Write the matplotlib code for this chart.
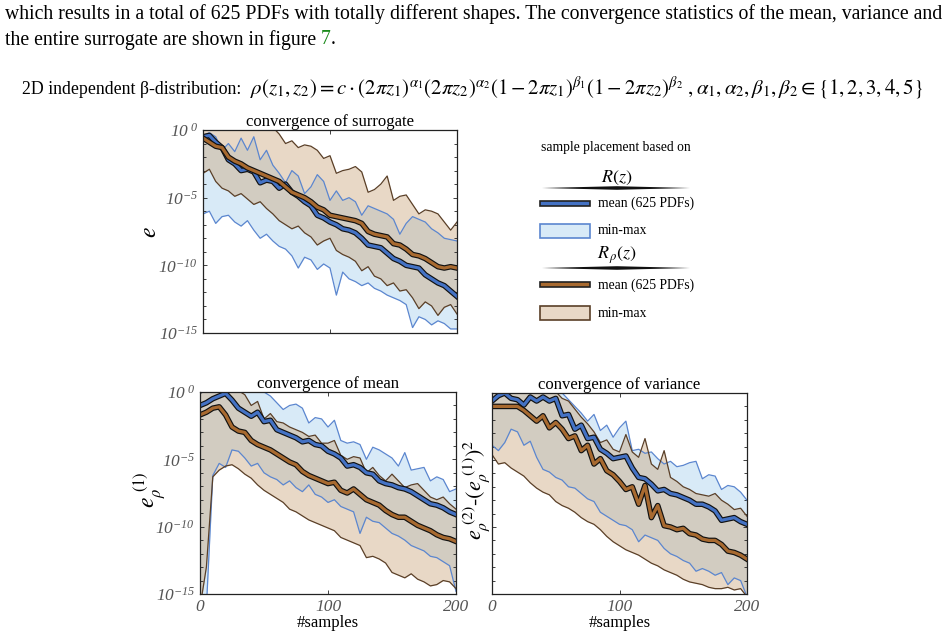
import numpy as np
import matplotlib
matplotlib.use("Agg")
import matplotlib.pyplot as plt
import matplotlib.patheffects as pe
from matplotlib.patches import Rectangle, Polygon
from matplotlib.ticker import NullFormatter

plt.rcParams["font.family"] = ["Liberation Serif", "DejaVu Serif"]
plt.rcParams["mathtext.fontset"] = "stix"
# italic serif for the tick labels (used through math_fontfamily="custom")
plt.rcParams["mathtext.it"] = "Liberation Serif:italic"
plt.rcParams["mathtext.rm"] = "Liberation Serif:italic"

# sample counts (x axis), every 5 samples
samples = np.arange(0, 201, 5)

# log10 of the error
# --- convergence of surrogate ---
sur_blue_min = [-6.2, -6.0, -6.9, -6.4, -6.3, -6.8, -7.1, -6.7, -7.4, -8.0, -7.7, -8.2, -8.6, -8.8, -9.3, -10.2, -9.4,
                -9.6, -10.3, -9.9, -10.2, -12.2, -10.5, -11.0, -11.2, -11.5, -11.3, -11.7, -11.9, -12.2, -12.4, -12.6,
                -12.9, -14.6, -13.8, -14.0, -14.4, -14.1, -14.3, -14.7, -14.7]
sur_blue_max = [-0.4, -0.2, -0.5, -1.5, -1.0, -1.6, -0.6, -1.5, -0.5, -2.2, -1.5, -2.6, -3.2, -3.9, -3.0, -3.4, -4.7,
                -4.2, -3.3, -3.8, -5.2, -4.5, -5.2, -5.0, -5.3, -6.3, -5.6, -5.8, -6.0, -6.2, -6.6, -7.7, -6.9, -6.4,
                -6.6, -6.8, -7.3, -7.6, -8.0, -8.1, -8.2]
sur_blue_mean = [-0.5, -0.4, -0.9, -1.3, -2.2, -2.5, -3.0, -2.9, -3.1, -3.9, -3.7, -3.8, -4.3, -4.0, -4.6, -4.9, -5.3,
                 -5.6, -6.3, -6.5, -6.8, -7.0, -7.3, -7.4, -7.6, -8.0, -8.5, -8.6, -8.7, -9.1, -9.5, -9.7, -10.0,
                 -10.1, -10.2, -10.7, -11.0, -11.3, -11.5, -11.9, -12.3]
sur_brown_min = [-3.2, -2.9, -3.8, -4.3, -4.5, -4.9, -4.7, -5.1, -5.5, -5.3, -5.8, -6.2, -6.7, -7.0, -7.3, -7.1, -7.6,
                 -7.9, -8.5, -8.2, -8.0, -8.9, -9.2, -9.4, -9.7, -10.4, -10.1, -10.8, -11.0, -11.5, -11.3, -11.9,
                 -11.8, -12.4, -13.2, -12.7, -13.0, -13.7, -13.1, -12.9, -13.6]
sur_brown_max = [0.2, 0.2, 0.2, 0.2, 0.2, 0.2, 0.2, 0.2, 0.2, 0.2, 0.1, 0.2, -0.3, -1.0, -0.8, -1.3, -1.1, -1.2, -1.5,
                 -2.1, -1.9, -3.2, -3.0, -2.9, -2.7, -3.1, -4.6, -4.4, -4.0, -3.4, -5.2, -4.9, -4.8, -5.5, -6.2, -5.9,
                 -6.0, -6.2, -6.8, -7.4, -6.8]
sur_brown_mean = [-0.6, -0.9, -1.2, -1.3, -2.0, -2.3, -2.5, -2.8, -3.0, -3.2, -3.4, -3.6, -3.8, -4.2, -4.6, -4.8, -5.0,
                  -5.3, -5.7, -5.9, -6.3, -6.4, -6.5, -6.6, -6.7, -6.9, -7.5, -7.7, -7.8, -7.9, -8.4, -8.5, -8.8,
                  -9.2, -9.3, -9.5, -9.8, -10.1, -10.2, -10.1, -10.2]

# --- convergence of mean ---
mean_blue_min = [-16, -16, -6.2, -5.3, -5.6, -4.3, -4.4, -4.9, -5.5, -5.3, -6.0, -6.3, -6.5, -6.9, -6.6, -7.1, -7.4,
                 -6.9, -7.6, -7.8, -8.2, -8.0, -8.5, -8.7, -8.9, -10.5, -9.3, -9.6, -9.7, -10.1, -10.5, -10.7, -11.0,
                 -11.4, -11.6, -11.8, -12.2, -12.3, -12.6, -12.9, -14.8]
mean_blue_max = [-0.1, 0.1, 0.1, 0.1, 0.1, 0.1, 0.1, 0.1, 0.1, 0.1, 0.0, -0.3, -0.8, -1.3, -1.0, -0.9, -1.2, -2.3, -1.9,
                 -2.0, -2.6, -2.1, -3.6, -3.8, -3.7, -3.9, -5.0, -4.1, -4.3, -4.6, -4.9, -5.5, -4.5, -5.8, -5.7, -5.6,
                 -6.6, -6.3, -6.5, -7.4, -7.2]
mean_blue_mean = [-1.0, -0.8, -0.5, -0.3, -0.1, -0.6, -1.2, -1.5, -1.8, -1.5, -2.2, -2.1, -2.8, -3.0, -3.2, -3.4, -3.7,
                  -3.6, -3.9, -4.0, -4.4, -4.6, -4.9, -5.5, -5.4, -5.6, -6.0, -6.1, -6.6, -6.8, -6.9, -7.1, -7.2,
                  -7.4, -7.7, -8.0, -8.3, -8.4, -8.6, -8.9, -9.1]
mean_brown_min = [-16, -13.0, -6.3, -5.8, -5.5, -5.4, -5.7, -6.1, -6.4, -6.9, -7.3, -7.6, -7.9, -8.2, -8.7, -8.9, -9.2,
                  -9.5, -9.7, -9.9, -10.1, -10.3, -10.8, -11.0, -11.2, -11.4, -12.3, -12.2, -12.4, -12.7, -13.4,
                  -13.6, -13.8, -13.5, -13.9, -14.1, -14.4, -14.3, -14.0, -14.1, -14.6]
mean_brown_max = [-0.1, 0.1, 0.1, 0.1, 0.1, 0.1, 0.1, -0.2, -1.0, -0.7, -2.0, -1.6, -2.2, -2.3, -2.6, -2.8, -3.0, -3.3,
                  -3.2, -3.8, -3.8, -3.6, -4.7, -5.0, -4.8, -4.9, -6.0, -5.6, -6.2, -6.6, -6.1, -6.6, -7.1, -6.9, -6.8,
                  -7.3, -7.8, -8.0, -7.8, -8.3, -8.7]
mean_brown_mean = [-1.7, -1.5, -1.2, -1.1, -1.7, -2.6, -2.9, -3.0, -3.6, -3.9, -4.1, -4.3, -4.6, -4.9, -5.2, -5.4,
                   -5.9, -6.2, -6.4, -6.6, -6.8, -6.7, -7.3, -7.5, -7.2, -7.6, -8.0, -8.2, -8.4, -8.8, -9.1, -9.3,
                   -9.3, -9.6, -9.9, -10.1, -10.3, -10.6, -10.8, -10.9, -11.1]

# --- convergence of variance ---
var_blue_min = [-3.9, -4.3, -3.7, -2.7, -2.9, -3.9, -3.6, -4.8, -5.7, -5.9, -6.3, -6.5, -7.0, -7.1, -7.5, -7.9, -8.1,
                -8.9, -9.2, -9.5, -9.8, -9.9, -10.2, -11.1, -10.6, -10.8, -11.0, -11.6, -12.0, -12.2, -12.5, -12.7,
                -13.3, -13.1, -13.3, -13.6, -13.4, -14.3, -13.8, -14.0, -15.2]
var_blue_max = [0.1, 0.1, 0.1, 0.1, 0.1, 0.1, 0.1, 0.1, 0.1, 0.1, 0.1, 0.0, -0.5, -1.0, -1.5, -2.1, -1.6, -2.8, -2.4,
                -3.3, -2.6, -2.1, -4.3, -4.2, -4.5, -4.4, -4.9, -5.3, -5.1, -5.5, -5.4, -5.2, -5.1, -6.4, -6.1, -6.2,
                -7.2, -6.9, -7.0, -7.4, -8.0]
var_blue_mean = [-0.6, -0.2, 0.0, -0.4, -0.5, -0.9, -0.3, -0.6, -0.3, -0.6, -0.4, -1.7, -1.6, -2.7, -2.4, -3.4, -3.3,
                 -4.2, -4.5, -4.9, -4.8, -4.7, -5.6, -6.3, -6.4, -6.8, -7.3, -7.2, -7.5, -7.6, -7.8, -8.0, -8.3, -8.3,
                 -8.5, -8.8, -9.5, -9.4, -9.3, -9.6, -9.8]
var_brown_min = [-4.6, -5.3, -5.2, -5.6, -5.9, -6.2, -6.7, -7.1, -7.4, -7.6, -8.1, -8.4, -8.6, -8.9, -9.3, -9.6, -9.8,
                 -10.2, -10.7, -11.1, -11.4, -11.7, -11.9, -12.1, -12.4, -12.7, -12.9, -13.2, -13.4, -13.6, -13.9,
                 -14.1, -14.2, -14.3, -14.5, -14.6, -14.6, -14.5, -14.7, -14.6, -15.2]
var_brown_max = [0.1, 0.1, 0.1, 0.1, 0.1, 0.1, 0.1, 0.1, 0.1, 0.1, 0.1, -0.4, -0.6, -1.2, -1.8, -2.3, -2.9, -3.7, -3.5,
                 -4.2, -4.4, -3.1, -4.4, -4.8, -3.4, -5.3, -5.7, -4.3, -6.3, -6.6, -7.0, -7.2, -7.5, -7.6, -7.7, -7.5,
                 -8.0, -8.3, -8.7, -8.6, -9.2]
var_brown_mean = [-1.0, -1.0, -1.0, -1.0, -1.0, -1.3, -1.7, -2.1, -1.7, -2.6, -2.2, -2.7, -3.4, -3.2, -4.3, -3.9, -5.3,
                  -4.9, -5.8, -6.1, -6.6, -7.2, -7.0, -8.3, -6.9, -9.3, -8.4, -9.9, -10.0, -10.2, -10.1, -10.5, -10.6,
                  -10.9, -11.0, -11.0, -11.3, -11.8, -11.9, -12.1, -12.4]

ytick_exps = [0, -5, -10, -15]
xtick_vals = [0, 100, 200]

BLUE_FILL = "#d8eaf7"
BLUE_LINE = "#5b86cf"
BLUE_MEAN = "#4472c4"
BROWN_FILL = "#cdaa83"
BROWN_LINE = "#5a3f27"
BROWN_MEAN = "#a86a30"
TICK_GRAY = "#555555"

W, H = 949, 636


def fx(px):
    return px / W


def fy(py):
    return 1 - py / H


def draw_panel(ax, bmin, bmax, bmean, rmin, rmax, rmean):
    ax.fill_between(samples, 10.0 ** np.array(bmin), 10.0 ** np.array(bmax), color=BLUE_FILL, lw=0)
    ax.fill_between(samples, 10.0 ** np.array(rmin), 10.0 ** np.array(rmax), color=BROWN_FILL, alpha=0.46, lw=0)
    for v in (bmin, bmax):
        ax.plot(samples, 10.0 ** np.array(v), color=BLUE_LINE, lw=0.9)
    for v in (rmin, rmax):
        ax.plot(samples, 10.0 ** np.array(v), color=BROWN_LINE, lw=0.9)
    stroke = [pe.Stroke(linewidth=4.0, foreground="#111111"), pe.Normal()]
    ax.plot(samples, 10.0 ** np.array(bmean), color=BLUE_MEAN, lw=2.3, path_effects=stroke, solid_joinstyle="round")
    ax.plot(samples, 10.0 ** np.array(rmean), color=BROWN_MEAN, lw=2.3, path_effects=stroke, solid_joinstyle="round")
    ax.set_yscale("log")
    ax.set_xlim(0, 200)
    ax.set_ylim(1e-15, 1e0)
    ax.set_yticks([10.0 ** e for e in ytick_exps])
    ax.set_yticks([10.0 ** e for e in range(-15, 1)], minor=True)
    ax.yaxis.set_minor_formatter(NullFormatter())
    ax.set_xticks(xtick_vals)
    ax.tick_params(which="both", direction="in", right=True, top=True, length=3, width=0.6, colors="#222222",
                   labelcolor=TICK_GRAY, labelsize=12.5)
    ax.tick_params(which="minor", length=2.5)
    for s in ax.spines.values():
        s.set_linewidth(0.9)
        s.set_color("#222222")


def ylabels(ax):
    labs = []
    for e in ytick_exps:
        if e == 0:
            labs.append(r"$\mathit{10}^{\ \mathit{0}}$")
        else:
            labs.append(r"$\mathit{10}^{\mathit{-%d}}$" % (-e))
    ax.set_yticklabels(labs, math_fontfamily="custom")


fig = plt.figure(figsize=(W / 100, H / 100), dpi=100)

ax_s = fig.add_axes([fx(203), fy(333), fx(457) - fx(203), fy(130) - fy(333)])
ax_m = fig.add_axes([fx(200), fy(594), fx(456) - fx(200), fy(392) - fy(594)])
ax_v = fig.add_axes([fx(492), fy(594), fx(747) - fx(492), fy(393) - fy(594)])

draw_panel(ax_s, sur_blue_min, sur_blue_max, sur_blue_mean, sur_brown_min, sur_brown_max, sur_brown_mean)
draw_panel(ax_m, mean_blue_min, mean_blue_max, mean_blue_mean, mean_brown_min, mean_brown_max, mean_brown_mean)
draw_panel(ax_v, var_blue_min, var_blue_max, var_blue_mean, var_brown_min, var_brown_max, var_brown_mean)

ylabels(ax_s)
ylabels(ax_m)
ax_v.set_yticklabels([])
ax_s.set_xticklabels([])
for ax in (ax_m, ax_v):
    ax.set_xticklabels([str(v) for v in xtick_vals], fontstyle="italic")
    ax.set_xlabel("#samples", fontsize=12, labelpad=0)

ax_s.set_title("convergence of surrogate", fontsize=12, pad=3)
ax_m.set_title("convergence of mean", fontsize=12, pad=3)
ax_v.set_title("convergence of variance", fontsize=12, pad=3)

fig.text(fx(150), fy(232), r"$e$", fontsize=17, rotation=90, ha="center", va="center")
fig.text(fx(150), fy(490), r"$e_{\rho}^{\ (1)}$", fontsize=17, rotation=90, ha="center", va="center")
fig.text(fx(476), fy(490), r"$e_{\rho}^{\ (2)}\text{-}(e_{\rho}^{\ (1)})^2$", fontsize=16, rotation=90,
         ha="center", va="center")

# page text above the figure
PAGE_FS = 14.2
fig.text(fx(5), fy(14), "which results in a total of 625 PDFs with totally different shapes. The convergence "
         "statistics of the mean, variance and", fontsize=PAGE_FS, va="center", ha="left")
line2 = fig.text(fx(5), fy(40), "the entire surrogate are shown in figure ", fontsize=PAGE_FS, va="center",
                 ha="left")
fig.canvas.draw()
x_end = fig.transFigure.inverted().transform(line2.get_window_extent().p1)[0]
seven = fig.text(x_end, fy(40), "7", fontsize=PAGE_FS, va="center", ha="left", color="#1a8a1a")
fig.canvas.draw()
x_end = fig.transFigure.inverted().transform(seven.get_window_extent().p1)[0]
fig.text(x_end, fy(40), ".", fontsize=PAGE_FS, va="center", ha="left")

fig.text(fx(22), fy(89), "2D independent β-distribution:", fontsize=12.8, va="center", ha="left")
fig.text(fx(250), fy(88),
         r"$\rho(z_1,z_2)=c\cdot(2\pi z_1)^{\alpha_1}(2\pi z_2)^{\alpha_2}(1-2\pi z_1)^{\beta_1}"
         r"(1-2\pi z_2)^{\beta_2}\ ,\alpha_1,\alpha_2,\beta_1,\beta_2\in\{1,2,3,4,5\}$",
         fontsize=15, va="center", ha="left")

# legend drawn by hand
fig.text(fx(616), fy(147), "sample placement based on", fontsize=9.8, ha="center", va="center")


def header(py_text, py_line, label):
    fig.text(fx(617), fy(py_text), label, fontsize=13, ha="center", va="center")
    fig.add_artist(Polygon([[fx(542), fy(py_line)], [fx(617), fy(py_line - 1.8)], [fx(690), fy(py_line)],
                            [fx(617), fy(py_line + 1.8)]], closed=True, color="#111111", lw=0,
                           transform=fig.transFigure))


def entry(py, text, face, edge, height):
    fig.add_artist(Rectangle((fx(540), fy(py + height / 2)), fx(590) - fx(540), height / H, facecolor=face,
                             edgecolor=edge, lw=1.2, transform=fig.transFigure))
    fig.text(fx(598), fy(py), text, fontsize=9.8, ha="left", va="center")


header(178, 188, r"$R(z)$")
entry(203, "mean (625 PDFs)", BLUE_MEAN, "#222222", 5)
entry(231, "min-max", BLUE_FILL, BLUE_LINE, 14)
header(255, 268, r"$R_{\,\rho}(z)$")
entry(285, "mean (625 PDFs)", BROWN_MEAN, "#222222", 5)
entry(313, "min-max", "#e8d8c6", BROWN_LINE, 14)

fig.savefig("out.png", dpi=100)
